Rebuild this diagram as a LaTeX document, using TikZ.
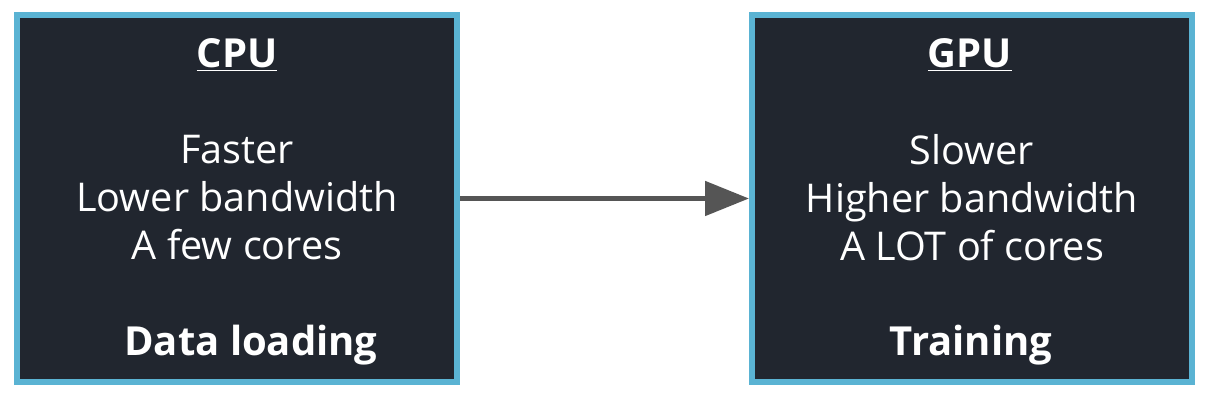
\documentclass[tikz,border=0pt]{standalone}
\usepackage{fontspec}
\setmainfont{Open Sans}
\usetikzlibrary{arrows.meta,positioning}
\definecolor{boxfill}{HTML}{21262F}
\definecolor{boxedge}{HTML}{5AB3D3}
\definecolor{linkgray}{HTML}{555555}
\tikzset{
  unit/.style  = {draw=boxedge, line width=3pt, fill=boxfill,
                  minimum width=220pt, minimum height=183.5pt, inner sep=0pt},
  title/.style = {text=white, font=\bfseries\fontsize{20}{24}\selectfont},
  body/.style  = {text=white, align=center, font=\fontsize{19.8}{24}\selectfont},
  link/.style  = {-{Triangle[length=22pt, width=17pt]}, line width=2.5pt, draw=linkgray},
}
\begin{document}
\begin{tikzpicture}[x=0.5pt,y=0.5pt]
  \useasboundingbox[fill=white] (0,0) rectangle (1208,400);
  \node[unit] (cpu) at (237,201.5) {};
  \node[unit] (gpu) at (972,201.5) {};
  % labels
  \node[title] (cpuhead) at (237,345) {\underline{CPU}};
  \node[body] (cpulist) at (237,202) {Faster\\Lower bandwidth\\A few cores};
  \node[title] (cpufoot) at (251,55) {Data loading};
  \node[title] (gpuhead) at (970,345) {\underline{GPU}};
  \node[body] (gpulist) at (972,202) {Slower\\Higher bandwidth\\A LOT of cores};
  \node[title] (gpufoot) at (971,55) {Training};
  \draw[link] (cpu.east) -- (gpu.west);
\end{tikzpicture}
\end{document}
